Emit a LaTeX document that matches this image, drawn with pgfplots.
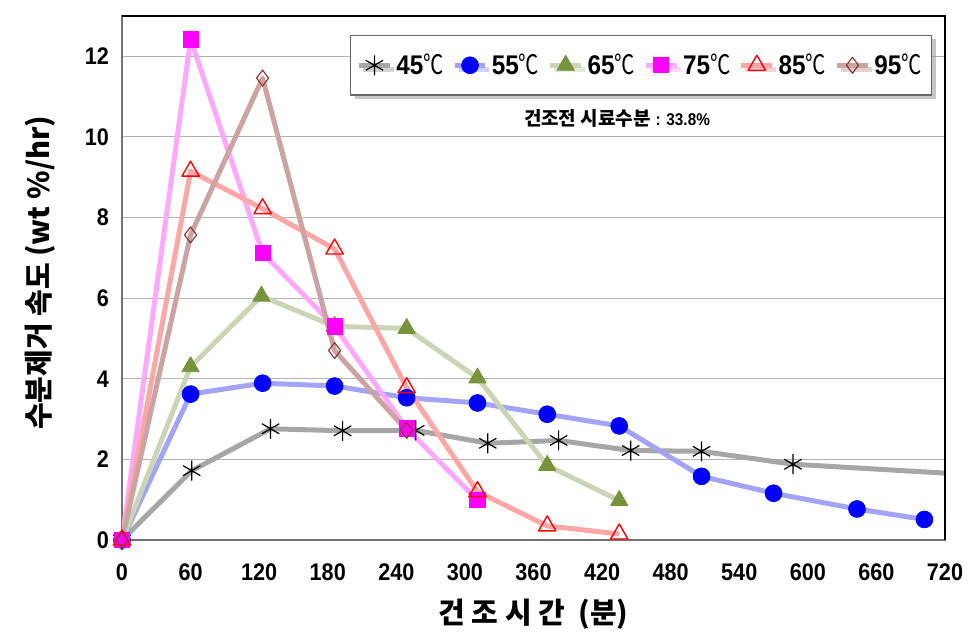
\documentclass[border=0pt]{standalone}
\usepackage{fontspec}
\setmainfont{Liberation Sans}[FakeStretch=0.9]
\newfontfamily\kr{Noto Sans CJK KR}
\usepackage{pgfplots}
\pgfplotsset{compat=1.18}
\usetikzlibrary{shadows}

\definecolor{l45}{HTML}{A6A6A6}
\definecolor{l55}{HTML}{A3A3FA}
\definecolor{m55}{HTML}{0000FF}
\definecolor{l65}{HTML}{CBD5B5}
\definecolor{m65}{HTML}{77933C}
\definecolor{l75}{HTML}{FFA8FF}
\definecolor{m75}{HTML}{FF00FF}
\definecolor{l85}{HTML}{FFA6A6}
\definecolor{m85}{HTML}{FF0000}
\definecolor{l95}{HTML}{CCA3A3}
\definecolor{m95}{HTML}{8B3A3A}

\newcommand{\degc}{{\kr\mdseries\scalebox{0.75}[1]{℃}}}

\begin{document}
\begin{tikzpicture}
\begin{axis}[
    scale only axis,
    width=411.5pt, height=262pt,
    xmin=0, xmax=720, ymin=0, ymax=13,
    xtick={0,60,...,720},
    ytick={0,2,...,12},
    major tick length=0pt,
    ymajorgrids=true,
    grid style={draw=black!30, line width=0.5pt},
    axis line style={draw=black!55, line width=0.6pt},
    tick label style={font=\fontsize{12}{14}\selectfont\bfseries},
    /pgf/number format/assume math mode=true,
    xticklabel style={yshift=-8.5pt},
    yticklabel style={xshift=-3pt},
    xlabel={\kr\bfseries 건 조 시 간 \ (분)},
    ylabel={\kr\bfseries 수분제거 속도 (wt \%/hr)},
    label style={font=\fontsize{14.5}{16}\selectfont},
    xlabel style={at={(axis description cs:0.5,0)}, anchor=center, yshift=-37pt},
    ylabel style={at={(axis description cs:-0.0996,0.51)}, anchor=center},
    legend columns=6,
    legend style={at={(axis description cs:0.277,0.964)}, anchor=north west,
        draw=black!60, fill=white, line width=0.6pt,
        drop shadow={shadow xshift=2pt, shadow yshift=-2pt, fill=black!45},
        font=\fontsize{13.5}{15}\selectfont\bfseries,
        inner xsep=3pt, inner ysep=7pt,
        /tikz/every odd column/.append style={column sep=0pt},
        /tikz/every even column/.append style={column sep=2.3pt}},
    legend image code/.code={\draw[mark repeat=2,mark phase=2] plot coordinates {(0cm,0cm)(0.27cm,0cm)(0.54cm,0cm)};},
    every axis plot/.append style={line width=2.5pt, line join=round},
]
\addplot[l45, mark=asterisk, mark size=5pt, mark options={draw=black, line width=0.6pt}]
    coordinates {(0,0)(61,1.72)(130,2.76)(193,2.71)(257,2.72)(320,2.40)(382,2.47)(445,2.22)(507,2.20)(587,1.88)(780,1.56)};
\addplot[l55, mark=*, mark size=4.2pt, mark options={draw=m55, fill=m55, line width=0.4pt}]
    coordinates {(0,0)(60,3.62)(123,3.89)(186,3.82)(249,3.53)(311,3.40)(372,3.12)(435,2.83)(507,1.58)(570,1.16)(643,0.77)(702,0.51)};
\addplot[l65, mark=triangle*, mark size=5pt, mark options={draw=m65, fill=m65, line width=0.4pt}]
    coordinates {(0,0)(60,4.30)(122,6.05)(186,5.30)(249,5.25)(311,4.02)(372,1.85)(435,0.98)};
\addplot[l75, mark=square*, mark size=3.8pt, mark options={draw=m75, fill=m75, line width=0.4pt}]
    coordinates {(0,0)(60,12.42)(123,7.12)(186,5.30)(249,2.77)(311,0.99)};
\addplot[l85, mark=triangle, mark size=5pt, mark options={draw=m85, fill=white, line width=0.7pt}]
    coordinates {(0,0)(60,9.15)(123,8.22)(186,7.22)(249,3.78)(311,1.20)(372,0.35)(435,0.15)};
\addplot[l95, mark=diamond, mark size=4pt, mark options={draw=m95, fill=white, line width=0.6pt}]
    coordinates {(0,0)(60,7.57)(123,11.46)(186,4.70)(249,2.72)};
\legend{45\degc,55\degc,65\degc,75\degc,85\degc,95\degc}
\node[font=\bfseries] at (axis cs:433,10.45) {{\kr\fontsize{9.5}{11}\selectfont 건조전 시료수분} {\fontsize{8.5}{10}\selectfont: 33.8\%}};
\end{axis}
\draw[black, line width=0.7pt] (current axis.north west) -- (current axis.north east) -- (current axis.south east);
\pgfresetboundingbox
\path ([xshift=-61pt,yshift=-49.5pt]current axis.south west) rectangle ([xshift=16.5pt,yshift=8pt]current axis.north east);
\end{tikzpicture}
\end{document}
